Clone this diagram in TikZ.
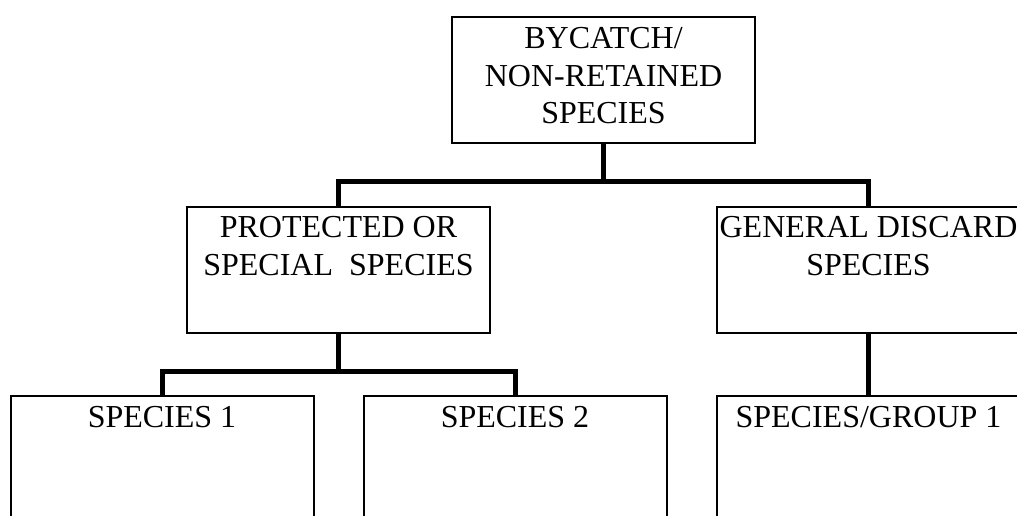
\documentclass[tikz,border=0pt]{standalone}
\usepackage{fontspec}
\setmainfont{Liberation Serif}
\begin{document}
\begin{tikzpicture}[x=0.75pt,y=-0.75pt,
  box/.style={draw=black,line width=1.5pt,minimum width=227.25pt,minimum height=94.5pt,inner sep=0pt,outer sep=0pt},
  lbl/.style={anchor=north,inner sep=0pt,align=center,font=\fontsize{24}{28.2}\selectfont},
  conn/.style={draw=black,line width=3.75pt}]
\useasboundingbox (0,0) rectangle (1017,516);
\clip (0,0) rectangle (1017,516);
% boxes
\node[box] (top) at (603.5,80) {};
\node[box] (prot) at (338.5,270) {};
\node[box] (gen) at (868.5,270) {};
\node[box] (sp1) at (162,459) {};
\node[box] (sp2) at (515,459) {};
\node[box] (sg1) at (868.5,459) {};
% labels
\node[lbl] (tTop) at ([yshift=-7.5pt]top.north) {BYCATCH/\\NON-RETAINED\\SPECIES};
\node[lbl] (tProt) at ([yshift=-7pt]prot.north) {PROTECTED OR\\SPECIAL~~SPECIES};
\node[lbl] (tGen) at ([yshift=-7pt]gen.north) {GENERAL DISCARD\\SPECIES};
\node[lbl] (tSp1) at ([yshift=-7.5pt]sp1.north) {SPECIES 1};
\node[lbl] (tSp2) at ([yshift=-7.5pt]sp2.north) {SPECIES 2};
\node[lbl] (tSg1) at ([yshift=-7.5pt]sg1.north) {SPECIES/GROUP 1};
% junctions
\coordinate (bar1) at (603.5,182);
\coordinate (bar2) at (338.5,372);
% connectors
\draw[conn] (top.south) -- (bar1);
\draw[conn] (prot.north) |- (bar1) -| (gen.north);
\draw[conn] (prot.south) -- (bar2);
\draw[conn] (sp1.north) |- (bar2) -| (sp2.north);
\draw[conn] (gen.south) -- (sg1.north);
\end{tikzpicture}
\end{document}
